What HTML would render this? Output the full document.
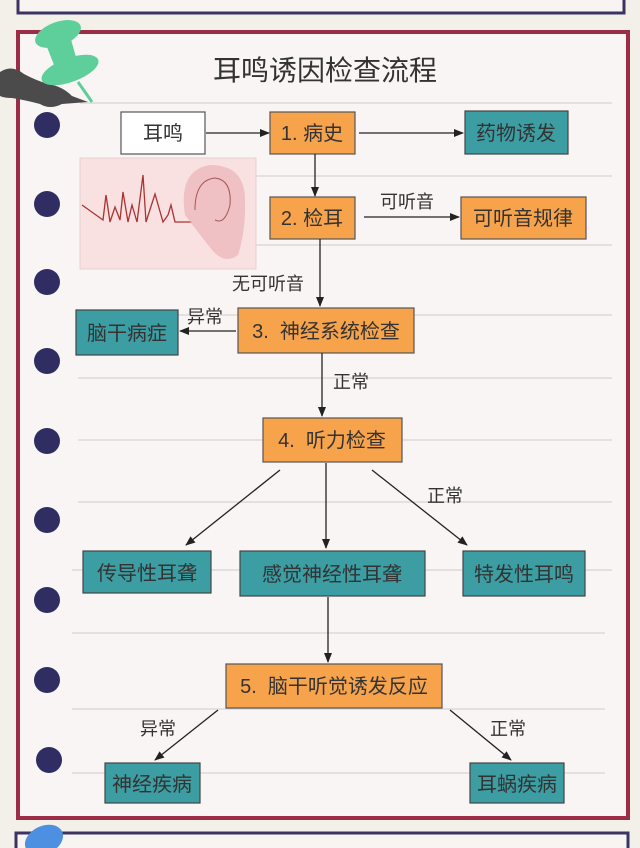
<!DOCTYPE html>
<html><head><meta charset="utf-8"><style>
html,body{margin:0;padding:0;background:#f3efe9;}
svg{display:block}
text{font-family:"Liberation Sans","Noto Sans CJK SC",sans-serif;fill:#333;}
</style></head><body>
<svg width="640" height="848" viewBox="0 0 640 848" xmlns="http://www.w3.org/2000/svg">
<defs><marker id="a" markerWidth="10" markerHeight="8" refX="9" refY="4" orient="auto" markerUnits="userSpaceOnUse"><path d="M0,0 L10,4 L0,8 Z" fill="#222"/></marker></defs>
<rect width="640" height="848" fill="#f3efe9"/>
<rect x="18" y="-10" width="606" height="23" fill="#f7f4f2" stroke="#3b3461" stroke-width="3"/>
<rect x="18" y="32" width="610" height="786" fill="#faf5f5" stroke="#9c2d46" stroke-width="4"/>
<g stroke="#d6d2d4" stroke-width="1.2">
<line x1="80" y1="103" x2="612" y2="103"/><line x1="80" y1="176" x2="612" y2="176"/>
<line x1="80" y1="245" x2="612" y2="245"/><line x1="80" y1="315" x2="612" y2="315"/>
<line x1="78" y1="378" x2="612" y2="378"/><line x1="78" y1="440" x2="612" y2="440"/>
<line x1="78" y1="502" x2="612" y2="502"/><line x1="72" y1="570" x2="612" y2="570"/>
<line x1="72" y1="633" x2="605" y2="633"/><line x1="72" y1="709" x2="605" y2="709"/>
<line x1="72" y1="773" x2="605" y2="773"/></g>
<g fill="#302d63">
<circle cx="47" cy="125" r="13"/><circle cx="47" cy="204" r="13"/><circle cx="47" cy="282" r="13"/>
<circle cx="47" cy="361" r="13"/><circle cx="47" cy="441" r="13"/><circle cx="47" cy="520" r="13"/>
<circle cx="47" cy="600" r="13"/><circle cx="47" cy="680" r="13"/><circle cx="49" cy="760" r="13"/></g>
<!-- pin -->
<path d="M0,72 Q12,64 24,74 Q35,80 48,84 Q62,86 72,96 L88,102 L62,104 Q50,110 40,104 Q25,100 12,98 Q4,98 0,96 Z" fill="#4b4b4b"/>
<line x1="78" y1="82" x2="92" y2="102" stroke="#5ecf9b" stroke-width="3"/>
<ellipse cx="58" cy="34" rx="24" ry="12" fill="#5ecf9b" transform="rotate(-20 58 34)"/>
<path d="M45,42 L70,36 L78,64 L56,70 Z" fill="#5ecf9b"/>
<ellipse cx="70" cy="70" rx="30" ry="12" fill="#5ecf9b" transform="rotate(-20 70 70)"/>
<rect x="16" y="833" width="612" height="30" fill="#f7f4f2" stroke="#3b3461" stroke-width="3"/>
<ellipse cx="44" cy="840" rx="20" ry="14" fill="#4d8fe0" transform="rotate(-25 44 840)"/>
<text x="325" y="80" font-size="28" text-anchor="middle" fill="#3e3e3e">耳鸣诱因检查流程</text>
<rect x="80" y="158" width="176" height="111" fill="#f8e1e0" stroke="#ead0cf"/>
<path d="M82,205 L103,220 L106,195 L110,222 L115,207 L120,220 L123,192 L128,222 L132,205 L137,222 L143,175 L146,222 L155,194 L163,222 L168,215 L171,205 L175,222 L192,222" fill="none" stroke="#a33" stroke-width="1.3"/>
<path d="M185,215 Q178,170 210,165 Q245,165 245,200 Q246,230 238,255 Q225,265 212,250 Q200,235 185,215 Z" fill="#eeb9bd" opacity="0.8"/>
<path d="M195,210 Q195,180 215,178 Q232,180 230,205 Q225,225 215,220" fill="none" stroke="#a55" stroke-width="1"/>
<g stroke-width="1.2">
<rect x="121" y="112" width="84" height="42" fill="#fff" stroke="#555"/>
<rect x="270" y="112" width="85" height="42" fill="#f6a34c" stroke="#555"/>
<rect x="465" y="111" width="103" height="43" fill="#3c9da2" stroke="#444"/>
<rect x="270" y="197" width="85" height="42" fill="#f6a34c" stroke="#555"/>
<rect x="461" y="197" width="125" height="42" fill="#f6a34c" stroke="#555"/>
<rect x="238" y="308" width="176" height="45" fill="#f6a34c" stroke="#555"/>
<rect x="76" y="310" width="102" height="45" fill="#3c9da2" stroke="#444"/>
<rect x="263" y="418" width="139" height="44" fill="#f6a34c" stroke="#555"/>
<rect x="83" y="551" width="128" height="42" fill="#3c9da2" stroke="#444"/>
<rect x="240" y="551" width="185" height="45" fill="#3c9da2" stroke="#444"/>
<rect x="463" y="551" width="122" height="45" fill="#3c9da2" stroke="#444"/>
<rect x="226" y="664" width="216" height="44" fill="#f6a34c" stroke="#555"/>
<rect x="105" y="763" width="95" height="40" fill="#3c9da2" stroke="#444"/>
<rect x="470" y="763" width="94" height="40" fill="#3c9da2" stroke="#444"/>
</g>
<g font-size="20" text-anchor="middle" fill="#2e3438">
<text x="163" y="140">耳鸣</text>
<text x="312" y="140">1. 病史</text>
<text x="516" y="140">药物诱发</text>
<text x="312" y="225">2. 检耳</text>
<text x="523" y="225">可听音规律</text>
<text x="326" y="338">3.&#160;&#160;神经系统检查</text>
<text x="127" y="340">脑干病症</text>
<text x="332" y="447">4.&#160;&#160;听力检查</text>
<text x="147" y="580">传导性耳聋</text>
<text x="332" y="581">感觉神经性耳聋</text>
<text x="524" y="581">特发性耳鸣</text>
<text x="334" y="693">5.&#160;&#160;脑干听觉诱发反应</text>
<text x="152" y="791">神经疾病</text>
<text x="517" y="791">耳蜗疾病</text>
</g>
<g stroke="#222" stroke-width="1.3" marker-end="url(#a)">
<line x1="206" y1="133" x2="269" y2="133"/>
<line x1="359" y1="133" x2="463" y2="133"/>
<line x1="315" y1="154" x2="315" y2="196"/>
<line x1="364" y1="217" x2="459" y2="217"/>
<line x1="320" y1="239" x2="320" y2="306"/>
<line x1="236" y1="331" x2="180" y2="331"/>
<line x1="322" y1="353" x2="322" y2="416"/>
<line x1="280" y1="470" x2="186" y2="545"/>
<line x1="326" y1="463" x2="326" y2="548"/>
<line x1="372" y1="470" x2="467" y2="545"/>
<line x1="328" y1="597" x2="328" y2="662"/>
<line x1="218" y1="710" x2="155" y2="760"/>
<line x1="450" y1="710" x2="511" y2="760"/>
</g>
<g font-size="18" fill="#222">
<text x="380" y="208">可听音</text>
<text x="232" y="290">无可听音</text>
<text x="187" y="323">异常</text>
<text x="333" y="388">正常</text>
<text x="427" y="502">正常</text>
<text x="140" y="735">异常</text>
<text x="490" y="735">正常</text>
</g>
</svg>
</body></html>
